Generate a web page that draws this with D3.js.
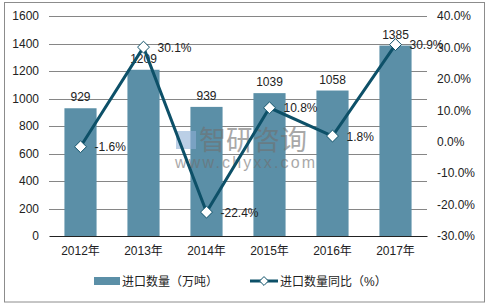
<!DOCTYPE html>
<html><head><meta charset="utf-8">
<script src="https://cdn.jsdelivr.net/npm/d3@7/dist/d3.min.js"></script>
<style>
body{margin:0;background:#fff;}
text{font-family:"Liberation Sans",Arial,"Noto Sans CJK SC",sans-serif;}
</style></head>
<body>
<script>
const categories = ["2012年","2013年","2014年","2015年","2016年","2017年"];
const volume = [929,1209,939,1039,1058,1385];
const yoy = [-1.6,30.1,-22.4,10.8,1.8,30.9];
const leftTicks = [0,200,400,600,800,1000,1200,1400,1600];
const rightTicks = [-30,-20,-10,0,10,20,30,40];
const seriesNames = ["进口数量（万吨）","进口数量同比（%）"];

const W=486,H=305;
const svg=d3.select("body").append("svg").attr("width",W).attr("height",H);
svg.append("rect").attr("x",4.5).attr("y",2.5).attr("width",480).attr("height",299.5)
  .attr("fill","#fff").attr("stroke","#8c8c8c").attr("stroke-width",1);

const L=49,R=427,T=16,B=236;
const x=d3.scaleBand().domain(categories).range([L,R]).paddingInner(0.49).paddingOuter(0.245);
const yL=d3.scaleLinear().domain([0,1600]).range([B,T]);
const yR=d3.scaleLinear().domain([-30,40]).range([B,T]);
const fs=12, col="#222";

// gridlines
svg.append("g").selectAll("line").data(leftTicks.filter(d=>d>0)).join("line")
  .attr("x1",L).attr("x2",R).attr("y1",d=>Math.round(yL(d))+0.5).attr("y2",d=>Math.round(yL(d))+0.5)
  .attr("stroke","#868686").attr("stroke-width",1);

// left axis
const gL=svg.append("g").attr("transform",`translate(${L},0)`)
  .call(d3.axisLeft(yL).tickValues(leftTicks).tickSize(0).tickPadding(10).tickFormat(d3.format("d")));
gL.select(".domain").remove();
gL.selectAll("text").attr("font-size",fs).attr("fill",col).attr("font-family",null);

// right axis
const gR=svg.append("g").attr("transform",`translate(${R},0)`)
  .call(d3.axisRight(yR).tickValues(rightTicks).tickSize(0).tickPadding(10).tickFormat(d=>d.toFixed(1)+"%"));
gR.select(".domain").remove();
gR.selectAll("text").attr("font-size",fs).attr("fill",col).attr("font-family",null);

// bars
svg.append("g").selectAll("rect").data(volume).join("rect")
  .attr("x",(d,i)=>x(categories[i])).attr("width",x.bandwidth())
  .attr("y",d=>yL(d)).attr("height",d=>B-yL(d)).attr("fill","#5b8fa7");

// x axis
const gX=svg.append("g").attr("transform",`translate(0,${B})`)
  .call(d3.axisBottom(x).tickSize(0).tickPadding(10));
gX.select(".domain").attr("stroke","#222").attr("stroke-width",1.2);
gX.selectAll("text").attr("font-size",fs).attr("fill",col).attr("font-family",null);

// watermark
const wm=svg.append("g").attr("opacity",0.6);
wm.append("rect").attr("x",176).attr("y",131).attr("width",20).attr("height",18).attr("fill","#8fb0d6");
wm.append("text").attr("x",199).attr("y",150).attr("font-size",27).attr("fill","#707070")
  .attr("font-family","Noto Sans CJK SC").text("智研咨询");
wm.append("text").attr("x",175).attr("y",168).attr("font-size",16).attr("fill","#707070")
  .attr("letter-spacing",2.2).text("www.chyxx.com");

// bar labels
svg.append("g").selectAll("text").data(volume).join("text")
  .attr("x",(d,i)=>x(categories[i])+x.bandwidth()/2).attr("y",d=>yL(d)-7)
  .attr("text-anchor","middle").attr("font-size",fs).attr("fill",col).text(d=>d);

// line
const cx=(i)=>x(categories[i])+x.bandwidth()/2;
const line=d3.line().x((d,i)=>cx(i)).y(d=>yR(d));
svg.append("path").datum(yoy).attr("d",line).attr("fill","none")
  .attr("stroke","#0d5068").attr("stroke-width",3);
const sym=d3.symbol().type(d3.symbolDiamond2).size(90);
svg.append("g").selectAll("path").data(yoy).join("path")
  .attr("d",sym).attr("transform",(d,i)=>`translate(${cx(i)},${yR(d)})`)
  .attr("fill","#fff").attr("stroke","#0d5068").attr("stroke-width",1);
svg.append("g").selectAll("text").data(yoy).join("text")
  .attr("x",(d,i)=>cx(i)+14).attr("y",d=>yR(d)+4.5)
  .attr("font-size",fs).attr("fill",col).text(d=>d.toFixed(1)+"%");

// legend
const lg=svg.append("g");
lg.append("rect").attr("x",94).attr("y",277).attr("width",26).attr("height",8).attr("fill","#5b8fa7");
lg.append("text").attr("x",122).attr("y",286).attr("font-size",fs).attr("fill",col).text(seriesNames[0]);
lg.append("line").attr("x1",250).attr("x2",278).attr("y1",281).attr("y2",281)
  .attr("stroke","#0d5068").attr("stroke-width",3);
lg.append("path").attr("d",d3.symbol().type(d3.symbolDiamond2).size(50)).attr("transform","translate(264,281)")
  .attr("fill","#fff").attr("stroke","#0d5068").attr("stroke-width",1);
lg.append("text").attr("x",280).attr("y",286).attr("font-size",fs).attr("fill",col).text(seriesNames[1]);
</script>
</body></html>
